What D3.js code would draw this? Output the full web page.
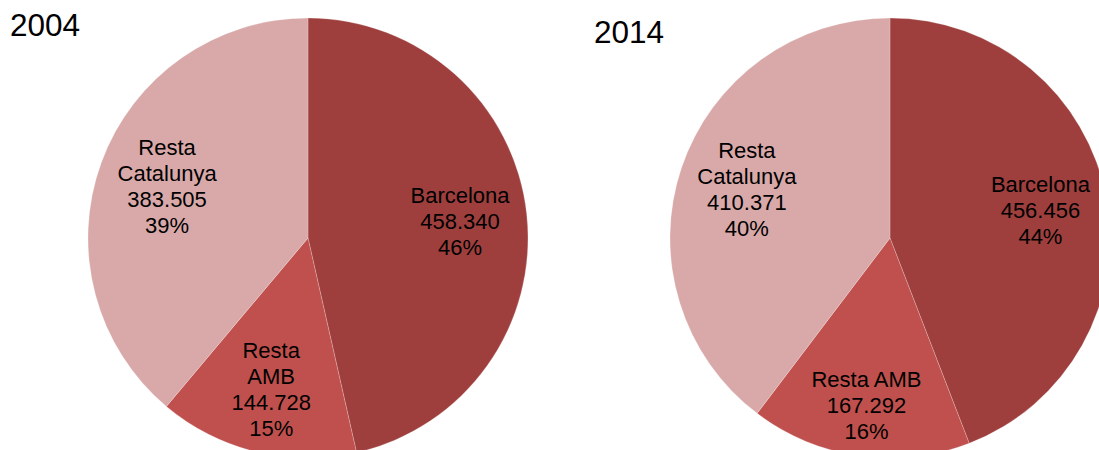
<!DOCTYPE html>
<html><head><meta charset="utf-8">
<script src="https://cdn.jsdelivr.net/npm/d3@7"></script>
<style>html,body{margin:0;padding:0;background:#fff;overflow:hidden}svg{display:block}</style>
</head><body>
<svg id="c" width="1099" height="450"></svg>
<script>
const categories = ["Barcelona", "Resta AMB", "Resta Catalunya"];
const years = ["2004", "2014"];
const values2004 = [458340, 144728, 383505];
const values2014 = [456456, 167292, 410371];
const valueLabels2004 = ["458.340", "144.728", "383.505"];
const valueLabels2014 = ["456.456", "167.292", "410.371"];
const pctLabels2004 = ["46%", "15%", "39%"];
const pctLabels2014 = ["44%", "16%", "40%"];
const nameLines2004 = [["Barcelona"], ["Resta", "AMB"], ["Resta", "Catalunya"]];
const nameLines2014 = [["Barcelona"], ["Resta AMB"], ["Resta", "Catalunya"]];

const colors = d3.scaleOrdinal().domain(categories).range(["#9E3F3E", "#C0504D", "#D9A9A9"]);

// layout config (not data)
const charts = [
  {year: years[0], values: values2004, vl: valueLabels2004, pl: pctLabels2004, names: nameLines2004,
   cx: 308, cy: 238, r: 220, tx: 10, ty: 36, labR: [153, 156, 150]},
  {year: years[1], values: values2014, vl: valueLabels2014, pl: pctLabels2014, names: nameLines2014,
   cx: 890, cy: 238, r: 220, tx: 594, ty: 43, labR: [153, 169, 151]}
];

const svg = d3.select("#c");
const font = "'Liberation Sans', Arial, sans-serif";
const fs = 22, lh = 26;

charts.forEach(ch => {
  const pie = d3.pie().sort(null).value(d => d)(ch.values);
  const arc = d3.arc().innerRadius(0).outerRadius(ch.r);
  const g = svg.append("g").attr("transform", `translate(${ch.cx},${ch.cy})`);
  g.selectAll("path").data(pie).join("path")
    .attr("d", arc)
    .attr("fill", (d, i) => colors(categories[i]))
    .attr("stroke", "rgba(255,255,255,0.3)")
    .attr("stroke-width", 0.7);

  pie.forEach((d, i) => {
    const [lx, ly] = d3.arc().innerRadius(ch.labR[i]).outerRadius(ch.labR[i]).centroid(d);
    const lines = ch.names[i].concat([ch.vl[i], ch.pl[i]]);
    const n = lines.length;
    const t = g.append("text")
      .attr("font-family", font).attr("font-size", fs)
      .attr("fill", "#000").attr("text-anchor", "middle");
    lines.forEach((s, k) => {
      t.append("tspan").attr("x", lx)
        .attr("y", ly - (n - 1) / 2 * lh + k * lh + 7.5)
        .text(s);
    });
  });

  svg.append("text").attr("x", ch.tx).attr("y", ch.ty)
    .attr("font-family", font).attr("font-size", 31.5).attr("fill", "#000")
    .text(ch.year);
});
</script>
</body></html>
